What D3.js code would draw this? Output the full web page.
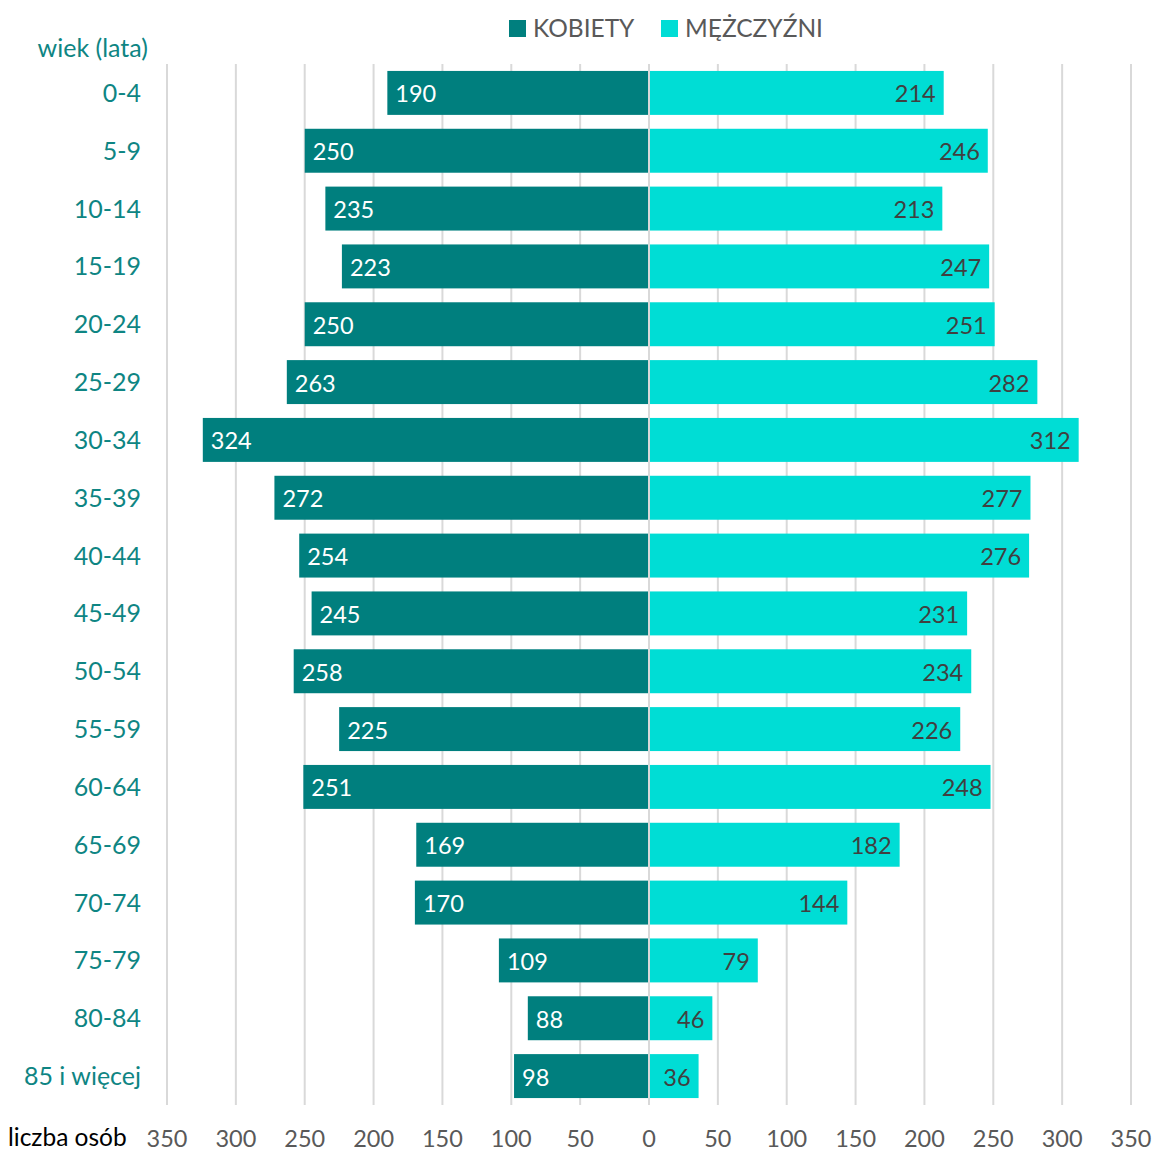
<!DOCTYPE html>
<html><head><meta charset="utf-8">
<script src="https://cdn.jsdelivr.net/npm/d3@7"></script>
<style>body{margin:0;background:#fff;} text{font-family:Lato,"Open Sans",sans-serif;}</style>
</head><body>
<svg id="c" width="1154" height="1154"></svg>
<script>
const categories = ["0-4","5-9","10-14","15-19","20-24","25-29","30-34","35-39","40-44","45-49","50-54","55-59","60-64","65-69","70-74","75-79","80-84","85 i więcej"];
const kobiety = [190,250,235,223,250,263,324,272,254,245,258,225,251,169,170,109,88,98];
const mezczyzni = [214,246,213,247,251,282,312,277,276,231,234,226,248,182,144,79,46,36];
const tickValues = [-350,-300,-250,-200,-150,-100,-50,0,50,100,150,200,250,300,350];
const seriesNames = ["KOBIETY","MĘŻCZYŹNI"];
const colK = "#007F7E", colM = "#00DDD5";

const svg = d3.select("#c");
const x = d3.scaleLinear().domain([-350,350]).range([167,1131]);
const y = d3.scaleBand().domain(categories).range([64,1105]).paddingInner(0.24).paddingOuter(0.12);

// grid
svg.append("g").selectAll("line").data(tickValues).join("line")
  .attr("x1",d=>x(d)).attr("x2",d=>x(d)).attr("y1",64).attr("y2",1105)
  .attr("stroke","#D9D9D9").attr("stroke-width",2);

// bars
svg.append("g").selectAll("rect").data(categories).join("rect")
  .attr("x",(d,i)=>x(-kobiety[i])).attr("width",(d,i)=>x(0)-x(-kobiety[i]))
  .attr("y",d=>y(d)).attr("height",y.bandwidth()).attr("fill",colK);
svg.append("g").selectAll("rect").data(categories).join("rect")
  .attr("x",x(0)).attr("width",(d,i)=>x(mezczyzni[i])-x(0))
  .attr("y",d=>y(d)).attr("height",y.bandwidth()).attr("fill",colM);

// zero line
svg.append("line").attr("x1",x(0)).attr("x2",x(0)).attr("y1",64).attr("y2",1105)
  .attr("stroke","#D9D9D9").attr("stroke-width",2);

// value labels
svg.append("g").selectAll("text").data(categories).join("text")
  .attr("x",(d,i)=>x(-kobiety[i])+8).attr("y",d=>y(d)+y.bandwidth()/2+1)
  .attr("dy","0.36em").attr("fill","#fff").attr("font-size",23.5)
  .text((d,i)=>kobiety[i]);
svg.append("g").selectAll("text").data(categories).join("text")
  .attr("x",(d,i)=>x(mezczyzni[i])-8).attr("y",d=>y(d)+y.bandwidth()/2+1)
  .attr("dy","0.36em").attr("text-anchor","end").attr("fill","#404040").attr("font-size",23.5)
  .text((d,i)=>mezczyzni[i]);

// category labels
svg.append("g").selectAll("text").data(categories).join("text")
  .attr("x",141).attr("y",d=>y(d)+y.bandwidth()/2).attr("dy","0.36em")
  .attr("text-anchor","end").attr("fill","#0E8583").attr("font-size",25)
  .text(d=>d);

svg.append("text").attr("x",148).attr("y",48).attr("dy","0.36em").attr("text-anchor","end")
  .attr("fill","#0E8583").attr("font-size",25).text("wiek (lata)");

// x axis tick labels
svg.append("g").selectAll("text").data(tickValues).join("text")
  .attr("x",d=>x(d)).attr("y",1139).attr("dy","0.36em").attr("text-anchor","middle")
  .attr("fill","#595959").attr("font-size",23.5).text(d=>Math.abs(d));

svg.append("text").attr("x",8).attr("y",1137).attr("dy","0.36em")
  .attr("fill","#000").attr("font-size",24.5).text("liczba osób");

// legend
const leg = svg.append("g");
const legX = [509, 661], legColors=[colK,colM];
seriesNames.forEach((n,i)=>{
  leg.append("rect").attr("x",legX[i]).attr("y",20).attr("width",17).attr("height",17).attr("fill",legColors[i]);
  leg.append("text").attr("x",legX[i]+24).attr("y",28).attr("dy","0.36em")
    .attr("fill","#595959").attr("font-size",24.5).text(n);
});
</script>
</body></html>
